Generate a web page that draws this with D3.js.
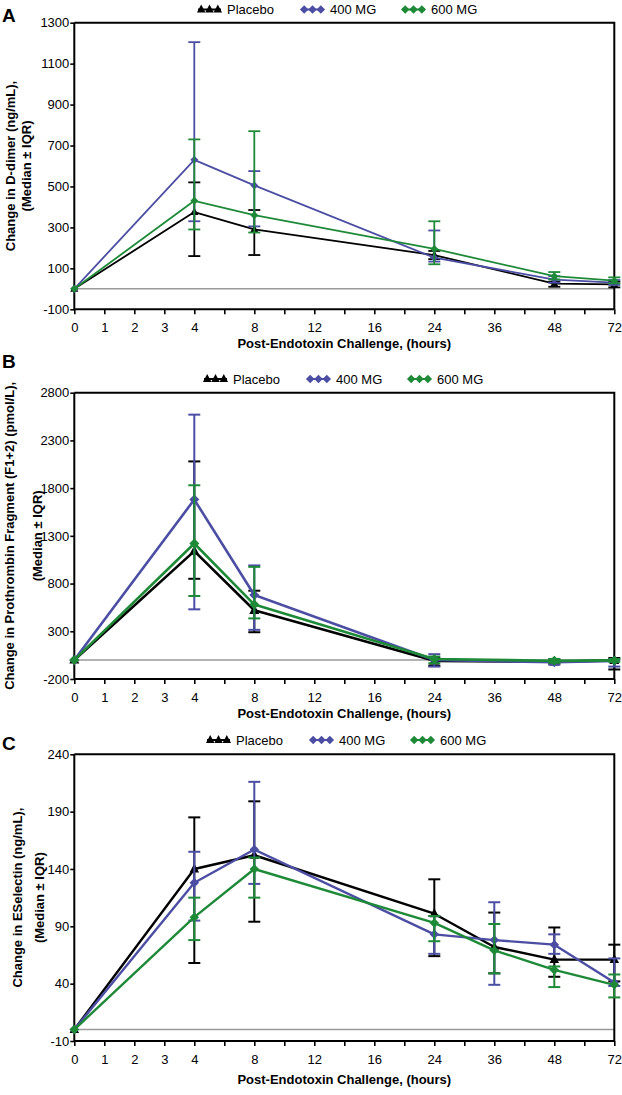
<!DOCTYPE html>
<html><head><meta charset="utf-8">
<script src="https://cdn.jsdelivr.net/npm/d3@7"></script>
<style>
body{margin:0;background:#fff}
svg{display:block;font-family:"Liberation Sans",Arial,sans-serif}
</style>
</head><body>
<svg id="chart" width="622" height="1095"></svg>
<script>
// ---------- data ----------
const seriesNames = ["Placebo", "400 MG", "600 MG"];
const seriesColors = ["#000000", "#4b4ea3", "#1e8a38"];
const xTickLabels = ["0","1","2","3","4","","8","","12","","16","","24","","36","","48","","72"];
const xTitle = "Post-Endotoxin Challenge, (hours)";

// Panel A: D-dimer
const hoursA = [0, 4, 8, 24, 48, 72];
const ddimerTicks = [-100, 100, 300, 500, 700, 900, 1100, 1300];
const ddimerPlaceboMed = [0, 375, 290, 165, 25, 22];
const ddimerPlaceboLo  = [0, 160, 165, 145, 10, 7];
const ddimerPlaceboHi  = [0, 520, 385, 185, 35, 35];
const ddimer400Med = [0, 630, 505, 152, 45, 30];
const ddimer400Lo  = [0, 330, 305, 133, 30, 19];
const ddimer400Hi  = [0, 1205, 575, 285, 62, 43];
const ddimer600Med = [0, 430, 360, 195, 62, 40];
const ddimer600Lo  = [0, 290, 275, 120, 46, 27];
const ddimer600Hi  = [0, 730, 770, 330, 82, 56];

// Panel B: Prothrombin fragment F1+2
const hoursB = [0, 4, 8, 24, 48, 72];
const f12Ticks = [-200, 300, 800, 1300, 1800, 2300, 2800];
const f12PlaceboMed = [0, 1140, 520, -10, -20, -5];
const f12PlaceboLo  = [0, 850, 290, -60, -40, -100];
const f12PlaceboHi  = [0, 2080, 725, 20, 0, 20];
const f12400Med = [0, 1680, 680, 0, -25, -10];
const f12400Lo  = [0, 530, 315, -70, -50, -70];
const f12400Hi  = [0, 2570, 990, 60, 10, 0];
const f12600Med = [0, 1220, 580, 10, -10, -5];
const f12600Lo  = [0, 670, 435, -35, -30, -20];
const f12600Hi  = [0, 1830, 975, 35, 10, 10];

// Panel C: E-Selectin
const hoursC = [0, 4, 8, 24, 36, 48, 72];
const eselTicks = [-10, 40, 90, 140, 190, 240];
const eselPlaceboMed = [0, 140, 152, 101, 72, 61, 61];
const eselPlaceboLo  = [0, 58, 94, 64, 49, 46, 42];
const eselPlaceboHi  = [0, 185, 199, 131, 102, 89, 74];
const esel400Med = [0, 128, 157, 83, 78, 74, 41];
const esel400Lo  = [0, 95, 127, 66, 39, 66, 38];
const esel400Hi  = [0, 155, 216, 99, 111, 83, 62];
const esel600Med = [0, 98, 140, 93, 69, 52, 39];
const esel600Lo  = [0, 78, 115, 77, 49, 37, 28];
const esel600Hi  = [0, 115, 150, 99, 92, 55, 48];

// ---------- panel configs ----------
const panels = [
  { letter: "A", letterY: 22, legendY: 9.5, legendX: 197, top: 22.7, bottom: 309.3,
    ticks: ddimerTicks, hours: hoursA, lw: 1.8, ms: 8, capW: 12, ebW: 1.8,
    ylab: ["Change in D-dimer (ng/mL),", "(Median \u00b1 IQR)"], ylabX: [10, 26],
    titleY: 348,
    series: [[ddimerPlaceboMed, ddimerPlaceboLo, ddimerPlaceboHi],
             [ddimer400Med, ddimer400Lo, ddimer400Hi],
             [ddimer600Med, ddimer600Lo, ddimer600Hi]] },
  { letter: "B", letterY: 368, legendY: 379, legendX: 203, top: 392.7, bottom: 679,
    ticks: f12Ticks, hours: hoursB, lw: 2.6, ms: 10, capW: 12, ebW: 2,
    ylab: ["Change in Prothrombin Fragment (F1+2) (pmol/L),", "(Median \u00b1 IQR)"], ylabX: [9, 37],
    titleY: 718,
    series: [[f12PlaceboMed, f12PlaceboLo, f12PlaceboHi],
             [f12400Med, f12400Lo, f12400Hi],
             [f12600Med, f12600Lo, f12600Hi]] },
  { letter: "C", letterY: 750, legendY: 740, legendX: 206, top: 754.3, bottom: 1041,
    ticks: eselTicks, hours: hoursC, lw: 2.4, ms: 9.5, capW: 12, ebW: 2,
    ylab: ["Change in ESelectin (ng/mL),", "(Median \u00b1 IQR)"], ylabX: [17, 39],
    titleY: 1084,
    series: [[eselPlaceboMed, eselPlaceboLo, eselPlaceboHi],
             [esel400Med, esel400Lo, esel400Hi],
             [esel600Med, esel600Lo, esel600Hi]] }
];

const svg = d3.select("#chart");
const xLeft = 74.3, xRight = 614.3;
const x = d3.scaleLinear().domain([0, xTickLabels.length - 1]).range([xLeft, xRight]);
const hourIdx = h => xTickLabels.indexOf(String(h));

// marker path: w = approx width in px
function markerPath(si, w) {
  if (si === 0) {
    const h = w * 0.95;
    return `M0,${-h * 0.62}L${w / 2},${h * 0.38}L${-w / 2},${h * 0.38}Z`;
  }
  const r = w / 2;
  return `M0,${-r}L${r},0L0,${r}L${-r},0Z`;
}

panels.forEach(p => {
  const g = svg.append("g");
  const y = d3.scaleLinear().domain([p.ticks[0], p.ticks[p.ticks.length - 1]]).range([p.bottom, p.top]);

  // panel letter
  g.append("text").attr("x", 2).attr("y", p.letterY).attr("font-size", 19)
    .attr("font-weight", "bold").text(p.letter);

  // legend
  seriesNames.forEach((name, si) => {
    const lx = p.legendX + [0, 103, 204][si];
    const lg = g.append("g");
    lg.append("line").attr("x1", lx + 1).attr("x2", lx + 24).attr("y1", p.legendY).attr("y2", p.legendY)
      .attr("stroke", seriesColors[si]).attr("stroke-width", 2);
    [4.2, 12.5, 20.8].forEach(dx => {
      lg.append("path").attr("d", markerPath(si, 8.5))
        .attr("transform", `translate(${lx + dx},${p.legendY})`)
        .attr("fill", seriesColors[si]);
    });
    lg.append("text").attr("x", lx + 30).attr("y", p.legendY).attr("dy", "0.36em")
      .attr("font-size", 13).text(name);
  });

  // zero line
  g.append("line").attr("x1", xLeft).attr("x2", xRight).attr("y1", y(0)).attr("y2", y(0))
    .attr("stroke", "#9a9a9a").attr("stroke-width", 1.5);

  // frame (top and right)
  g.append("path").attr("d", `M${xLeft},${p.top}H${xRight}V${p.bottom}`)
    .attr("fill", "none").attr("stroke", "#000").attr("stroke-width", 2);

  // axes
  const yAxis = g.append("g").attr("transform", `translate(${xLeft},0)`)
    .call(d3.axisLeft(y).tickValues(p.ticks).tickSize(4).tickPadding(1).tickFormat(d => String(d)));
  const xAxis = g.append("g").attr("transform", `translate(0,${p.bottom})`)
    .call(d3.axisBottom(x).tickValues(d3.range(xTickLabels.length)).tickSize(5).tickPadding(8.5)
      .tickFormat(i => xTickLabels[i]));
  [yAxis, xAxis].forEach(a => {
    a.select(".domain").attr("stroke-width", 2).attr("stroke", "#000");
    a.selectAll(".tick line").attr("stroke-width", 1.6).attr("stroke", "#000");
    a.selectAll(".tick text").attr("font-size", 13).attr("font-family", "Liberation Sans, Arial, sans-serif").attr("fill", "#000");
  });
  xAxis.select(".domain").attr("d", `M${xLeft},0H${xRight}`);
  yAxis.select(".domain").attr("d", `M0,${p.bottom}V${p.top}`);

  // axis titles
  g.append("text").attr("x", (xLeft + xRight) / 2).attr("y", p.titleY).attr("text-anchor", "middle")
    .attr("font-size", 13).attr("font-weight", "bold").text(xTitle);
  const cy = (p.top + p.bottom) / 2;
  p.ylab.forEach((t, i) => {
    g.append("text").attr("transform", `translate(${p.ylabX[i]},${cy}) rotate(-90)`)
      .attr("text-anchor", "middle").attr("dy", "0.36em")
      .attr("font-size", 13).attr("font-weight", "bold").text(t);
  });

  // series
  p.series.forEach((s, si) => {
    const [med, lo, hi] = s;
    const pts = p.hours.map((h, k) => ({ i: hourIdx(h), m: med[k], lo: lo[k], hi: hi[k] }));
    const sg = g.append("g");
    const col = seriesColors[si];
    // error bars
    pts.forEach(d => {
      if (d.hi === d.lo) return;
      const X = x(d.i);
      sg.append("line").attr("x1", X).attr("x2", X).attr("y1", y(d.lo)).attr("y2", y(d.hi))
        .attr("stroke", col).attr("stroke-width", p.ebW);
      [d.lo, d.hi].forEach(v => {
        sg.append("line").attr("x1", X - p.capW / 2).attr("x2", X + p.capW / 2)
          .attr("y1", y(v)).attr("y2", y(v)).attr("stroke", col).attr("stroke-width", p.ebW);
      });
    });
    // line
    sg.append("path").datum(pts)
      .attr("d", d3.line().x(d => x(d.i)).y(d => y(d.m)))
      .attr("fill", "none").attr("stroke", col).attr("stroke-width", p.lw).attr("stroke-linejoin", "round");
    // markers
    sg.selectAll(".mk").data(pts).enter().append("path")
      .attr("d", markerPath(si, p.ms))
      .attr("transform", d => `translate(${x(d.i)},${y(d.m)})`)
      .attr("fill", col);
  });
});
</script>
</body></html>
